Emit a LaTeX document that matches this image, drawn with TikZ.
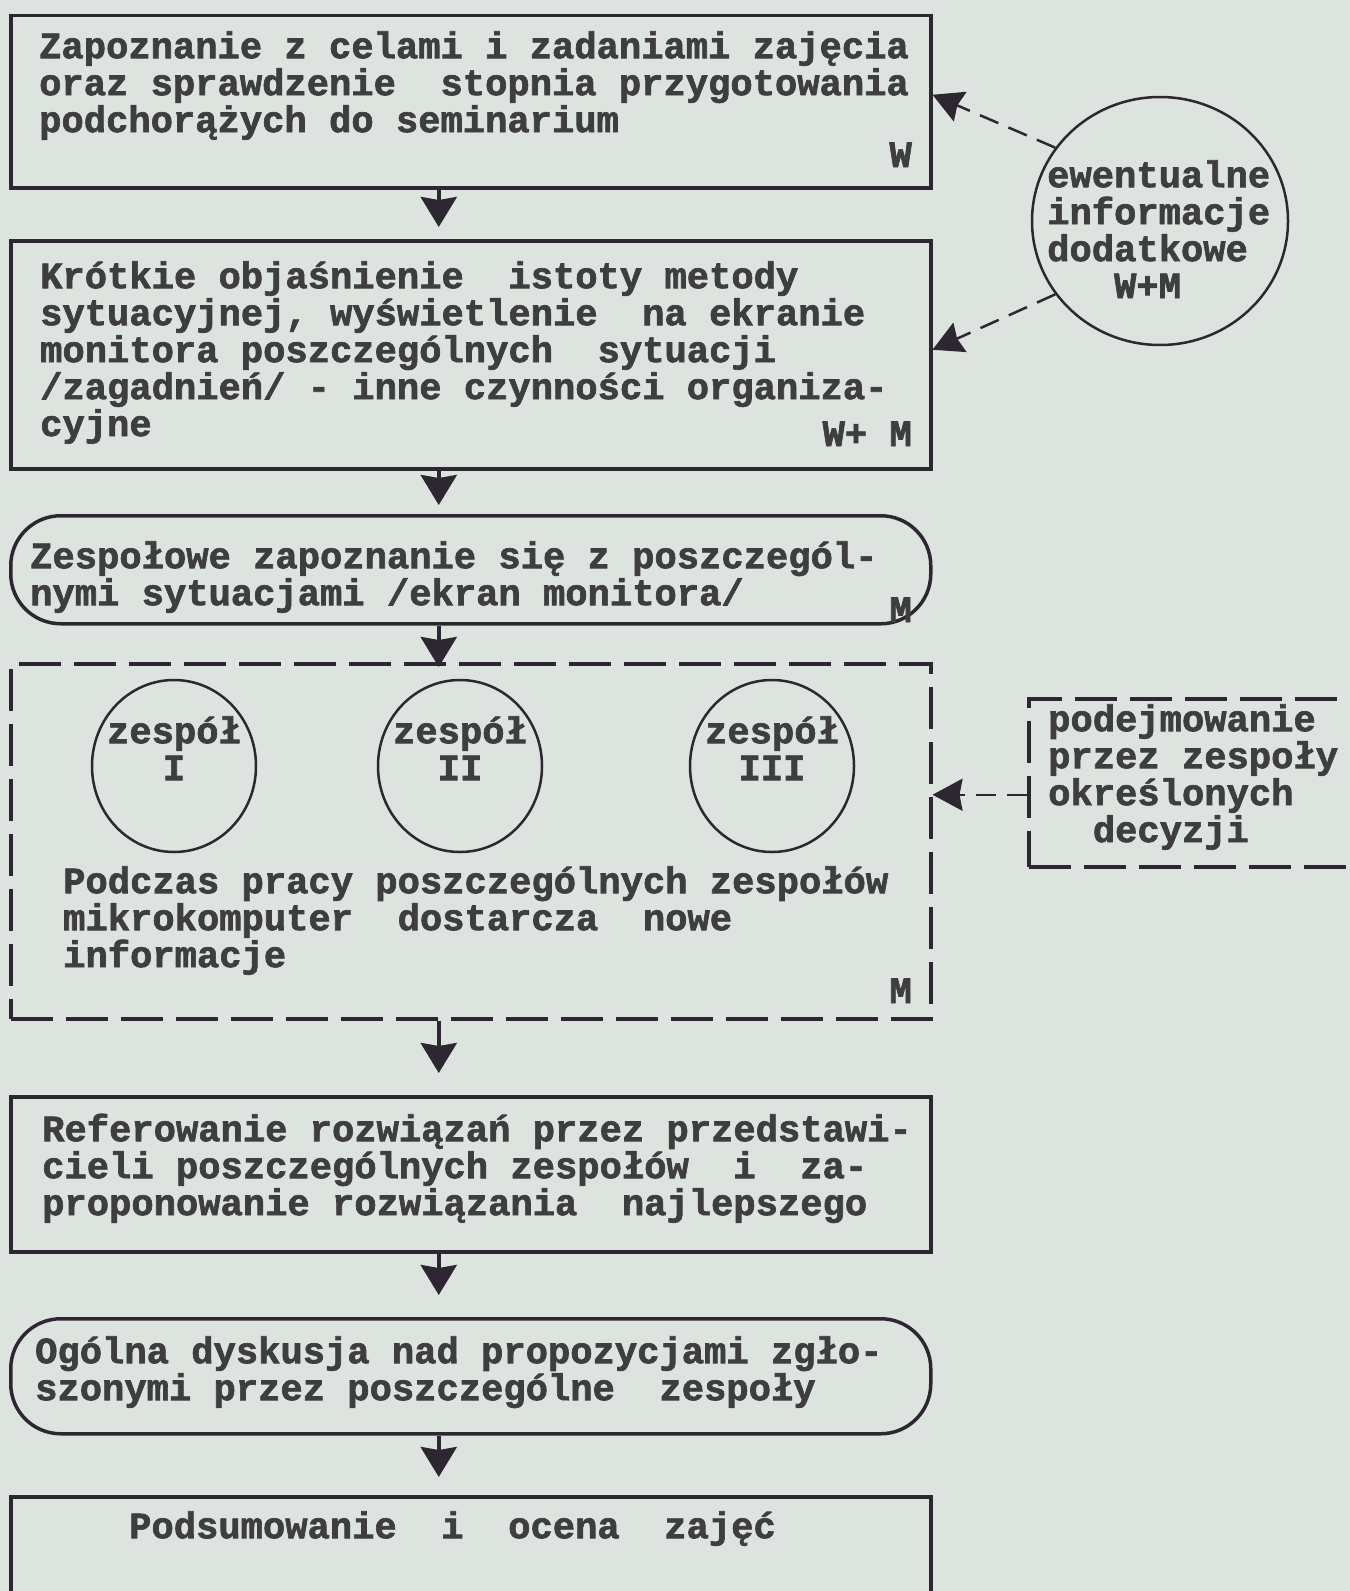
\documentclass[tikz,border=0pt]{standalone}
\usepackage{fontspec}
\usetikzlibrary{arrows.meta,shapes.geometric,calc}
\newfontfamily\tw{Liberation Mono Bold}[FakeBold=1.8]
\definecolor{bgc}{RGB}{221,227,222}
\definecolor{ink}{RGB}{45,39,49}
\definecolor{txtc}{RGB}{62,62,62}
\newcommand\tstr{\rule{0pt}{32bp}}
\begin{document}
\begin{tikzpicture}[x=1bp,y=-1bp,
  box/.style={draw=ink, line width=3.5bp, minimum width=920bp, anchor=north west, inner sep=0pt},
  rbox/.style={box, rounded corners=50bp},
  dbox/.style={draw=ink, line width=3.5bp, dash pattern=on 42bp off 13bp, anchor=north west, inner sep=0pt},
  txt/.style={font=\tw\fontsize{37.3}{37.1}\selectfont, text=txtc, inner sep=0pt, align=left, anchor=north west},
  lbl/.style={font=\tw\fontsize{37.3}{37.1}\selectfont, text=txtc, inner sep=0pt, anchor=base east},
  flow/.style={draw=ink, line width=4bp, -{Stealth[length=30bp,width=36bp,inset=3bp]}},
  grp/.style={draw=ink, line width=2.5bp, ellipse, minimum width=164bp, minimum height=172bp, inner sep=0pt},
  info/.style={draw=ink, line width=2.5bp, dash pattern=on 20bp off 11bp, -{Stealth[length=30bp,width=32bp,inset=3bp]}}
]
\useasboundingbox (0,0) rectangle (1350,1591);
\fill[bgc] (0,0) rectangle (1350,1591);
\clip (0,0) rectangle (1350,1591);

% main boxes
\node[box, minimum height=172bp] (b1) at (9,14) {};
\node[box, minimum height=228bp] (b2) at (9,239) {};
\node[rbox, minimum height=108bp] (b3) at (9,514) {};
\node[dbox, minimum width=920bp, minimum height=355bp] (b4) at (9,662) {};
\node[box, minimum height=155bp] (b5) at (9,1095) {};
\node[rbox, minimum height=115bp] (b6) at (9,1317) {};
\node[box, minimum height=140bp] (b7) at (9,1495) {};

% group circles
\node[grp] (z1) at (174,766) {};
\node[grp] (z2) at (460,766) {};
\node[grp] (z3) at (772,766) {};

% side elements
\node[draw=ink, line width=2.5bp, ellipse, minimum width=256bp, minimum height=248bp, inner sep=0pt] (ew) at (1160,221) {};
\node[dbox, minimum width=400bp, minimum height=168bp] (rb) at (1027,697) {};

% texts
\node[txt] (t1) at (39,26) {\tstr Zapoznanie z celami i zadaniami zajęcia\\oraz sprawdzenie~ stopnia przygotowania\\podchorążych do seminarium};
\node[lbl] (t1w) at (912,167) {W};
\node[txt] (t2) at (40,256) {\tstr Krótkie objaśnienie~ istoty metody\\sytuacyjnej, wyświetlenie~ na ekranie\\monitora poszczególnych~ sytuacji\\/zagadnień/ - inne czynności organiza-\\cyjne};
\node[lbl] (t2w) at (912,446) {W+ M};
\node[txt] (t3) at (30,536) {\tstr Zespołowe zapoznanie się z poszczegól-\\nymi sytuacjami /ekran monitora/};
\node[lbl] (t3m) at (912,622) {M};
\node[txt, anchor=north, align=center] (tz1) at (174,711) {\tstr zespół\\I};
\node[txt, anchor=north, align=center] (tz2) at (460,711) {\tstr zespół\\II};
\node[txt, anchor=north, align=center] (tz3) at (772,711) {\tstr zespół\\III};
\node[txt] (t4) at (63,861) {\tstr Podczas pracy poszczególnych zespołów\\mikrokomputer~ dostarcza~ nowe\\informacje};
\node[lbl] (t4m) at (912,1003) {M};
\node[txt] (trb) at (1048,699) {\tstr podejmowanie\\przez zespoły\\określonych\\~~decyzji};
\node[txt] (tew) at (1047,155) {\tstr ewentualne\\informacje\\dodatkowe\\~~~W+M};
\node[txt] (t5) at (42,1109) {\tstr Referowanie rozwiązań przez przedstawi-\\cieli poszczególnych zespołów~ i~ za-\\proponowanie rozwiązania~ najlepszego};
\node[txt] (t6) at (35,1331) {\tstr Ogólna dyskusja nad propozycjami zgło-\\szonymi przez poszczególne~ zespoły};
\node[txt] (t7) at (129,1506) {\tstr Podsumowanie~ i~ ocena~ zajęć};

% flow arrows
\draw[flow, shorten >=12bp] ([xshift=-32bp]b1.south) -- ([xshift=-32bp]b2.north);
\draw[flow, shorten >=9bp] ([xshift=-32bp]b2.south) -- ([xshift=-32bp]b3.north);
\draw[flow, shorten >=-5bp] ([xshift=-32bp]b3.south) -- ([xshift=-32bp]b4.north);
\draw[flow, shorten >=22bp] ([xshift=-32bp]b4.south) -- ([xshift=-32bp]b5.north);
\draw[flow, shorten >=22bp] ([xshift=-32bp]b5.south) -- ([xshift=-32bp]b6.north);
\draw[flow, shorten >=18bp] ([xshift=-32bp]b6.south) -- ([xshift=-32bp]b7.north);

% information connectors
\draw[info] (ew.145) -- ([yshift=7bp]b1.east);
\draw[info] (ew.215) -- ([yshift=5bp]b2.east);
\draw[info] ([yshift=-12bp]rb.west) -- ([yshift=-12bp]rb.west -| b4.east);
\end{tikzpicture}
\end{document}
